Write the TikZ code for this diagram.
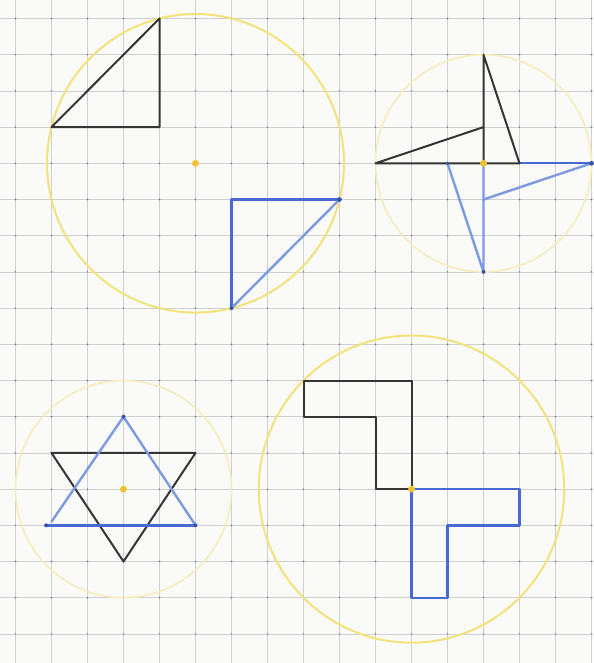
\documentclass[tikz,border=0pt]{standalone}
\definecolor{paper}{HTML}{FAFAF9}
\definecolor{gridc}{HTML}{CDD0D3}
\definecolor{gridd}{HTML}{707376}
\definecolor{ring}{HTML}{F3E27A}
\definecolor{ringlight}{HTML}{F6EDB8}
\definecolor{cdot}{HTML}{F0C232}
\definecolor{pen}{HTML}{353535}
\definecolor{bluepen}{HTML}{4868D2}
\definecolor{bluelight}{HTML}{7B9AE2}
\tikzset{
  gridline/.style={gridc, line width=0.7pt},
  circ/.style={ring, line width=2pt},
  circlight/.style={ringlight, line width=1.6pt},
  blackfig/.style={pen, line width=2pt, line join=round, line cap=round},
  bluefig/.style={bluepen, line width=2.4pt, line join=round, line cap=round},
  bluefigl/.style={bluelight, line width=2.4pt, line join=round, line cap=round},
  centerdot/.style={fill=cdot, draw=none},
  vdot/.style={fill=bluepen!80!black, draw=none}
}
\begin{document}
\begin{tikzpicture}[x={(36pt,0pt)}, y={(0pt,-36.2pt)}]
\useasboundingbox (-0.4306,-0.5110) rectangle (16.0417,17.8039);
\fill[paper] (-0.4306,-0.5110) rectangle (16.0417,17.8039);
\begin{scope}
\clip (-0.4306,-0.5110) rectangle (16.0417,17.8039);
\foreach \i in {0,...,16} \draw[gridline] (\i,-1) -- (\i,18);
\foreach \j in {0,...,17} \draw[gridline] (-1,\j) -- (17,\j);
\foreach \i in {0,...,16} \foreach \j in {0,...,17} \fill[gridd] (\i,\j) circle (0.8pt);
\end{scope}
% centers
\coordinate (c1) at (5,4);
\coordinate (c2) at (13,4);
\coordinate (c3) at (3,13);
\coordinate (c4) at (11,13);
% circles
\draw[circ] (c1) circle ({sqrt(17)});
\draw[circlight] (c2) circle (3);
\draw[circlight] (c3) circle (3);
\draw[circ] (c4) circle ({sqrt(18)});
% figure 1
\draw[blackfig] (4,0) -- (1,3) -- (4,3) -- cycle;
\draw[bluefig] (9,5) -- (6,5) -- (6,8);
\draw[bluefigl] (6,8) -- (9,5);
\fill[vdot] (9,5) circle (2.4pt);
\fill[vdot] (6,8) circle (2pt);
% figure 2
\draw[bluefigl] (13,4) -- (13,7) -- (12,4);
\draw[bluefigl] (16,4) -- (13,5);
\draw[bluefig] (14,4) -- (16,4);
\fill[vdot] (16,4) circle (2.4pt);
\fill[vdot] (13,7) circle (2pt);
\draw[blackfig] (13,4) -- (13,1) -- (14,4) -- (10,4) -- (13,3);
\fill[vdot] (12,4) circle (1.6pt);
% figure 3
\draw[blackfig] (1,12) -- (5,12) -- (3,15) -- cycle;
\draw[bluefigl] (0.85,14) -- (5,14) -- (3,11) -- (1,13.9);
\draw[bluefig] (0.85,14) -- (5,14);
\fill[vdot] (3,11) circle (2pt);
\fill[vdot] (0.85,14) circle (2pt);
\fill[vdot] (5,14) circle (2pt);
% figure 4
\draw[blackfig] (11,13) -- (11,10) -- (8,10) -- (8,11) -- (10,11) -- (10,13) -- cycle;
\draw[bluefig] (11,13) -- (14,13) -- (14,14) -- (12,14) -- (12,16) -- (11,16) -- cycle;
% center dots
\foreach \c in {c1,c2,c3,c4} \fill[centerdot] (\c) circle (3.4pt);
\end{tikzpicture}
\end{document}
